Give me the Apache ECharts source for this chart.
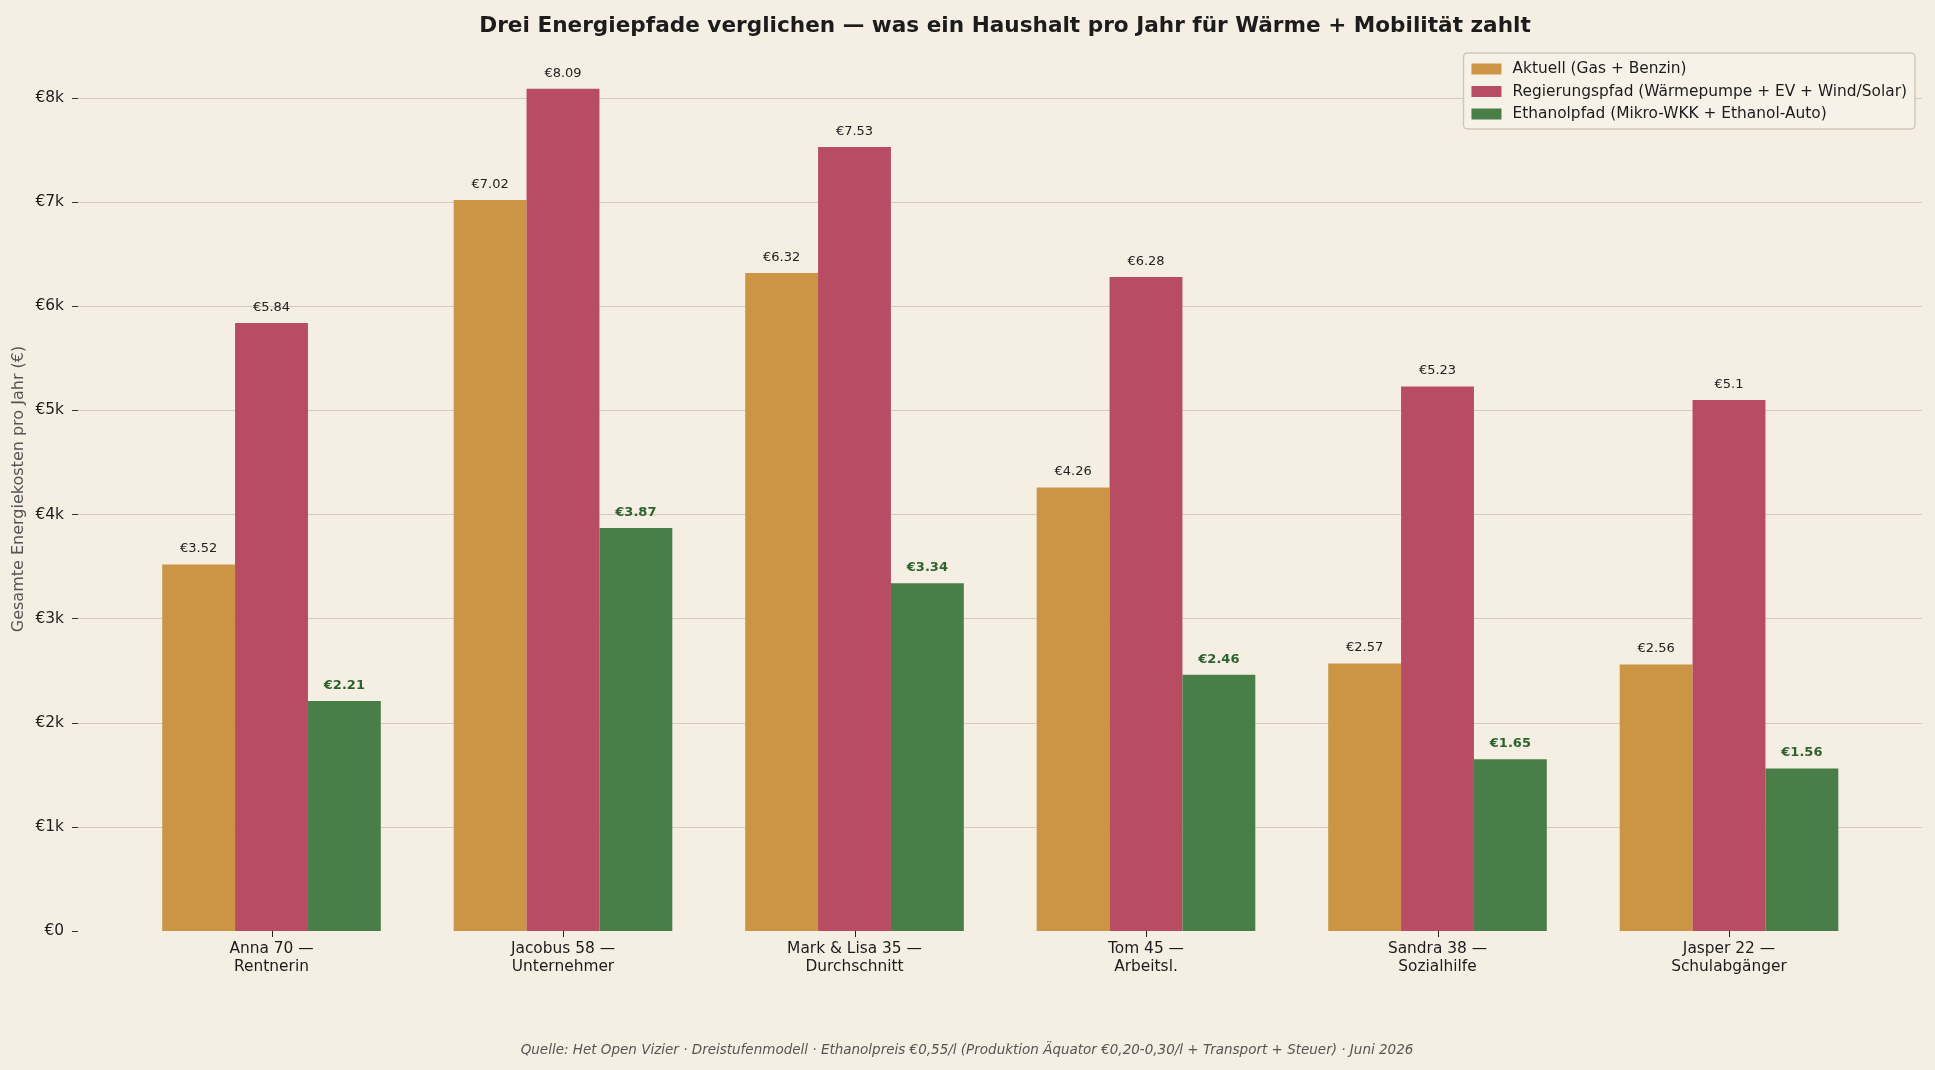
<!DOCTYPE html>
<html>
<head>
<meta charset="utf-8">
<script src="https://cdn.jsdelivr.net/npm/echarts@6/dist/echarts.min.js"></script>
<style>
  html, body { margin: 0; background: #f5efe3; }
  #main { width: 1935px; height: 1070px; }
</style>
</head>
<body>
<div id="main"></div>
<script>
// Haushalte (x-Achse)
const households = [
  'Anna 70 —\nRentnerin',
  'Jacobus 58 —\nUnternehmer',
  'Mark & Lisa 35 —\nDurchschnitt',
  'Tom 45 —\nArbeitsl.',
  'Sandra 38 —\nSozialhilfe',
  'Jasper 22 —\nSchulabgänger'
];
// Kosten in Tausend Euro pro Jahr
const aktuell = [3.52, 7.02, 6.32, 4.26, 2.57, 2.56];
const regierung = [5.84, 8.09, 7.53, 6.28, 5.23, 5.1];
const ethanol = [2.21, 3.87, 3.34, 2.46, 1.65, 1.56];
const yTickLabels = ['€0', '€1k', '€2k', '€3k', '€4k', '€5k', '€6k', '€7k', '€8k'];
const seriesNames = [
  'Aktuell (Gas + Benzin)',
  'Regierungspfad (Wärmepumpe + EV + Wind/Solar)',
  'Ethanolpfad (Mikro-WKK + Ethanol-Auto)'
];

const FONT = 'DejaVu Sans';
const chart = echarts.init(document.getElementById('main'));

function fmt(v) {
  return '€' + (+v.toFixed(2));
}

function makeBar(name, values, color, green) {
  return {
    name: name,
    type: 'bar',
    xAxisIndex: 1,
    yAxisIndex: 1,
    barWidth: '25%',
    barGap: '0%',
    clip: false,
    data: values,
    itemStyle: { color: color },
    label: {
      show: true,
      position: 'top',
      distance: 9,
      fontFamily: FONT,
      fontSize: 13,
      fontWeight: green ? 'bold' : 'normal',
      color: green ? '#2c632c' : '#222',
      formatter: p => fmt(p.value)
    }
  };
}

const textGraphics = [
  {
    id: 'ylabel',
    type: 'text',
    x: 18.5,
    y: 489,
    rotation: Math.PI / 2,
    style: {
      text: 'Gesamte Energiekosten pro Jahr (€)',
      fontFamily: FONT,
      fontSize: 16,
      fill: '#555',
      textAlign: 'center',
      textVerticalAlign: 'middle'
    }
  },
  {
    id: 'source',
    type: 'text',
    x: 967,
    y: 1050,
    style: {
      text: 'Quelle: Het Open Vizier · Dreistufenmodell · Ethanolpreis €0,55/l (Produktion Äquator €0,20-0,30/l + Transport + Steuer) · Juni 2026',
      fontFamily: FONT,
      fontSize: 13.5,
      fontStyle: 'italic',
      fill: '#555',
      textAlign: 'center',
      textVerticalAlign: 'middle'
    }
  }
];

// grid 0: volle Breite für Gitterlinien + y-Beschriftung
// grid 1: Kategorien-Bänder für die Balken
const option = {
  backgroundColor: '#f5efe3',
  animation: false,
  textStyle: { fontFamily: FONT },
  title: {
    text: 'Drei Energiepfade verglichen — was ein Haushalt pro Jahr für Wärme + Mobilität zahlt',
    left: 1000,
    textAlign: 'center',
    top: 10,
    textStyle: { fontFamily: FONT, fontSize: 21.6, fontWeight: 'bold', color: '#1c1c1c' }
  },
  legend: {
    orient: 'vertical',
    right: 20,
    top: 53,
    icon: 'rect',
    itemWidth: 30,
    itemHeight: 11,
    itemGap: 4.5,
    padding: [7, 8, 6, 8],
    backgroundColor: 'rgba(247,242,232,0.9)',
    borderColor: '#cfc7b7',
    borderWidth: 1.5,
    borderRadius: 4,
    textStyle: { fontFamily: FONT, fontSize: 15.4, color: '#1c1c1c', lineHeight: 18, padding: [0, 0, 0, 6] },
    data: seriesNames
  },
  grid: [
    { left: 78, right: 13, top: 98, bottom: 139 },
    { left: 125.75, right: 60.25, top: 98, bottom: 139 }
  ],
  xAxis: [
    {
      gridIndex: 0,
      type: 'value',
      show: false
    },
    {
      gridIndex: 1,
      type: 'category',
      data: households,
      axisLine: { show: false },
      axisTick: { show: false },
      axisLabel: {
        interval: 0,
        fontFamily: FONT,
        fontSize: 15.4,
        lineHeight: 18,
        color: '#1c1c1c',
        margin: 9
      }
    }
  ],
  yAxis: [
    {
      gridIndex: 0,
      type: 'value',
      min: 0,
      max: 8,
      interval: 1,
      axisLine: { show: false },
      axisTick: { show: true, length: 6, lineStyle: { color: '#333' } },
      axisLabel: {
        formatter: v => yTickLabels[Math.round(v)],
        fontFamily: FONT,
        fontSize: 15.4,
        color: '#1c1c1c',
        margin: 14
      },
      splitLine: {
        show: true,
        showMinLine: false,
        lineStyle: { color: '#d3cbbd', width: 1 }
      }
    },
    {
      gridIndex: 1,
      type: 'value',
      min: 0,
      max: 8,
      interval: 1,
      show: false,
      splitLine: { show: false }
    }
  ],
  graphic: textGraphics,
  series: [
    makeBar(seriesNames[0], aktuell, '#cb9545', false),
    makeBar(seriesNames[1], regierung, '#b74c63', false),
    makeBar(seriesNames[2], ethanol, '#4a7e49', true)
  ]
};

chart.setOption(option);

// Tick-Striche unter den Gruppenmitten, Position über die Kategorie-Achse
const baseY = chart.convertToPixel({ yAxisIndex: 1 }, 0);
const tickGraphics = households.map((h, i) => {
  const x = Math.round(chart.convertToPixel({ xAxisIndex: 1 }, i)) + 0.5;
  return {
    id: 'xtick' + i,
    type: 'line',
    shape: { x1: x, y1: baseY, x2: x, y2: baseY + 6 },
    style: { stroke: '#222', lineWidth: 1 }
  };
});
chart.setOption({ graphic: textGraphics.concat(tickGraphics) });
</script>
</body>
</html>
